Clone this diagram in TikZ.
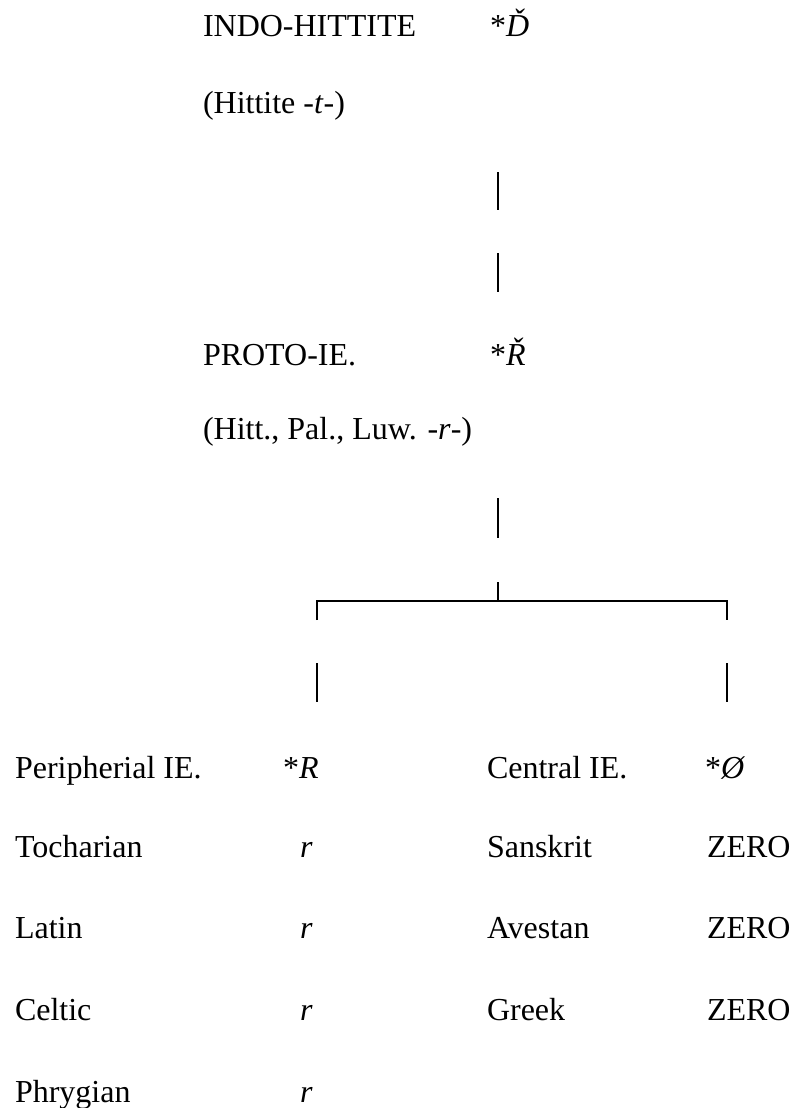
\documentclass[tikz,border=0pt]{standalone}
\usepackage{fontspec}
\setmainfont{Liberation Serif}
\begin{document}
\begin{tikzpicture}[x=1pt,y=1pt,
  lbl/.style={anchor=base west,inner sep=0pt,outer sep=0pt,font=\fontsize{32}{38}\selectfont},
  bar/.style={line width=2.8pt},
  hline/.style={line width=2.4pt}]
\useasboundingbox (0,0) rectangle (792,-1108);
% top section
\node[lbl] (ih) at (203,-37) {INDO-HITTITE};
\node[lbl] (ihs) at (490,-37) {*\textit{Ď}};
\node[lbl] (hit) at (203,-113) {(Hittite -\textit{t}-)};
\node[lbl] (pie) at (203,-365) {PROTO-IE.};
\node[lbl] (pies) at (490,-365) {*\textit{Ř}};
\node[lbl] (hpl) at (203,-439) {(Hitt., Pal., Luw. -\textit{r}-)};
% bars
\coordinate (b1a) at (498,-172); \coordinate (b1b) at (498,-210);
\coordinate (b2a) at (498,-253); \coordinate (b2b) at (498,-292);
\coordinate (b3a) at (498,-498); \coordinate (b3b) at (498,-538);
\coordinate (tka) at (498,-582); \coordinate (tkb) at (498,-601);
\coordinate (hl) at (317,-601); \coordinate (hr) at (727,-601);
\coordinate (ld) at (317,-620); \coordinate (rd) at (727,-620);
\coordinate (l2a) at (317,-663); \coordinate (l2b) at (317,-702);
\coordinate (r2a) at (727,-663); \coordinate (r2b) at (727,-702);
\draw[bar] (b1a) -- (b1b);
\draw[bar] (b2a) -- (b2b);
\draw[bar] (b3a) -- (b3b);
\draw[bar] (tka) -- (tkb);
\draw[hline,line join=miter] (ld) -- (hl) -- (hr) -- (rd);
\draw[bar] (l2a) -- (l2b);
\draw[bar] (r2a) -- (r2b);
% bottom table
\node[lbl] (per) at (15,-778) {Peripherial IE.};
\node[lbl] (pers) at (283,-778) {*\textit{R}};
\node[lbl] (cen) at (487,-778) {Central IE.};
\node[lbl] (cens) at (705,-778) {*\textit{Ø}};
\node[lbl] (toc) at (15,-857) {Tocharian};
\node[lbl] (tocr) at (300,-857) {\textit{r}};
\node[lbl] (san) at (487,-857) {Sanskrit};
\node[lbl] (sanz) at (707,-857) {ZERO};
\node[lbl] (lat) at (15,-938) {Latin};
\node[lbl] (latr) at (300,-938) {\textit{r}};
\node[lbl] (ave) at (487,-938) {Avestan};
\node[lbl] (avez) at (707,-938) {ZERO};
\node[lbl] (cel) at (15,-1020) {Celtic};
\node[lbl] (celr) at (300,-1020) {\textit{r}};
\node[lbl] (gre) at (487,-1020) {Greek};
\node[lbl] (grez) at (707,-1020) {ZERO};
\node[lbl] (phr) at (15,-1102) {Phrygian};
\node[lbl] (phrr) at (300,-1102) {\textit{r}};
\end{tikzpicture}
\end{document}
